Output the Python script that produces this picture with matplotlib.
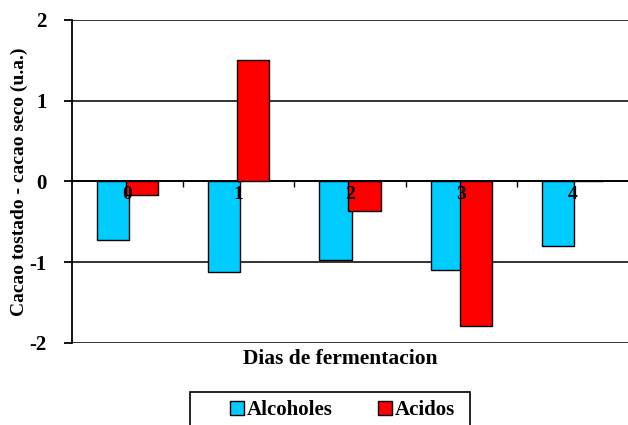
import numpy as np
import matplotlib.pyplot as plt
import matplotlib as mpl
from matplotlib.patches import Rectangle

mpl.rcParams['font.family'] = ['Liberation Serif', 'DejaVu Serif']
mpl.rcParams['font.weight'] = 'bold'
mpl.rcParams['axes.unicode_minus'] = False

dias = ['0', '1', '2', '3', '4']
alcoholes = [-0.72, -1.12, -0.97, -1.10, -0.80]
acidos = [-0.17, 1.50, -0.36, -1.79, 0.01]

x = np.arange(len(dias))
w = 0.29

fig = plt.figure(figsize=(6.28, 4.25), dpi=100)
ax = fig.add_axes([0.1146, 0.193, 0.8854, 0.76])

ax.bar(x - 0.13, alcoholes, w, color='#00CCFF', edgecolor='black', linewidth=1, label='Alcoholes', zorder=3)
ax.bar(x + 0.13, acidos, w, color='#FF0000', edgecolor='black', linewidth=1, label='Acidos', zorder=3)

ax.set_xlim(-0.5, 4.5)
ax.set_ylim(-2, 2)
ax.set_yticks([-2, -1, 0, 1, 2])
ax.set_axisbelow(True)
ax.yaxis.grid(True, color='#222222', linewidth=1.3)
ax.tick_params(axis='y', direction='out', length=6, width=1.3, labelsize=15, pad=12)

# category axis sits on zero
ax.spines['bottom'].set_position(('data', 0))
ax.spines['bottom'].set_linewidth(1.3)
ax.spines['left'].set_linewidth(1.3)
ax.spines['top'].set_visible(False)
ax.spines['right'].set_visible(False)
ax.set_xticks(x[:-1] + 0.5)
ax.set_xticklabels([])
ax.tick_params(axis='x', which='major', direction='out', length=4, width=1)

# category labels drawn over the bars, just under the zero line
for i, d in enumerate(dias):
    ax.annotate(d, (x[i], 0), xytext=(0, -3), textcoords='offset points',
                ha='center', va='top', fontsize=14, fontweight='bold', zorder=5)

ax.set_ylabel('Cacao tostado - cacao seco (u.a.)', fontsize=14, fontweight='bold', labelpad=1)
fig.text(0.542, 0.155, 'Dias de fermentacion', ha='center', va='center', fontsize=15.5, fontweight='bold')

# legend box runs off the bottom of the picture
fig.add_artist(Rectangle((190 / 628, -0.1), 280 / 628, 0.1 + 33 / 425, transform=fig.transFigure,
                         facecolor='none', edgecolor='black', linewidth=1.2))
leg = fig.legend(loc='center left', bbox_to_anchor=(230 / 628, 1 - 410 / 425), ncol=2, fontsize=15,
                 frameon=False, handlelength=0.65, handleheight=0.65, columnspacing=2.2,
                 borderpad=0, handletextpad=0.15, borderaxespad=0)

fig.savefig('out.png', dpi=100)
